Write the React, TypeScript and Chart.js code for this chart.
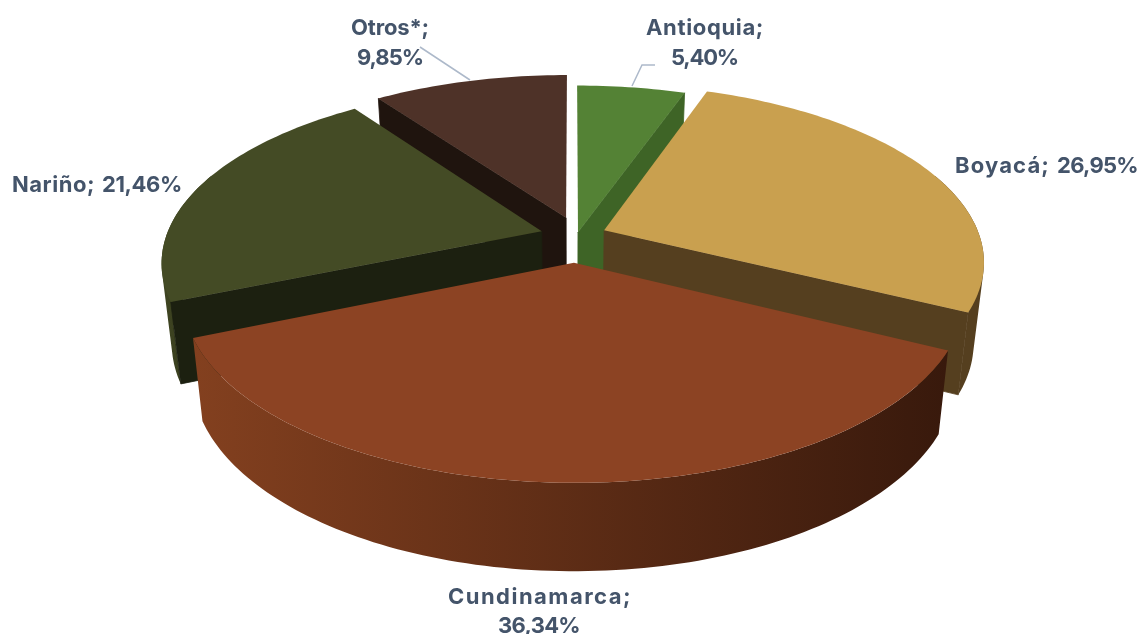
import React, { useEffect, useRef } from "react";
import { Chart, registerables } from "chart.js";

Chart.register(...registerables);

// Production share by department, in percent
const categories = ["Antioquia", "Boyacá", "Cundinamarca", "Nariño", "Otros*"];
const shares = [5.4, 26.95, 36.34, 21.46, 9.85];

// Slice appearance
const topColors = ["#548235", "#C9A04F", "#8C4323", "#444B25", "#4E3228"];
const sideColors = ["#3E6426", "#553F1F", "#5A2A14", "#1C2010", "#1F140E"];
const rimFrom = ["#4A7230", "#553F1F", "#83401F", "#3F4522", "#3E2820"];
const rimTo = ["#3E6426", "#553F1F", "#38190C", "#33381B", "#2E1D17"];

// Explosion of each slice on the pie plane, in pie radii
const explodeX = [0.016, 0.086, 0.005, -0.081, -0.016];
const explodeY = [-0.045, -0.056, 0.128, -0.05, -0.13];

// Slices are painted from the back of the pie towards the viewer
const paintOrder = [4, 0, 3, 1, 2];

// Camera used to lay the pie on its plane
const VIEW = { cx: 572, cy: 240, ax: 377, ay: 174, persp: 0.17, baseScale: 0.975 };

const LABEL_COLOR = "#44546A";
const LEADER_COLOR = "#ADB9CA";
const LABEL_FONT = "bold 22px Inter, Lato, sans-serif";

// Where each slice's name and value are set: [left, width, middle] of the run of text
const nameBoxes = [
  [646, 118, 28],
  [955, 95, 166],
  [448, 184, 597],
  [12, 83, 185],
  [351, 78, 28],
];
const valueBoxes = [
  [671, 67, 58],
  [1057, 81, 166],
  [498, 82, 626],
  [102, 80, 185],
  [357, 66, 58],
];

const formatShare = (v: number) => v.toFixed(2).replace(".", ",") + "%";

type Pt = [number, number];

function projectTop(x: number, y: number): Pt {
  const w = 1 - VIEW.persp * y;
  return [VIEW.cx + (VIEW.ax * x) / w, VIEW.cy + (VIEW.ay * y) / w];
}

// Point at the same place on the underside of the pie
function dropToBase(p: Pt): Pt {
  return [VIEW.cx + VIEW.baseScale * (p[0] - VIEW.cx), p[1] + 71 + 0.036 * p[1]];
}

function trace(ctx: CanvasRenderingContext2D, pts: Pt[]) {
  ctx.beginPath();
  pts.forEach((p, i) => (i ? ctx.lineTo(p[0], p[1]) : ctx.moveTo(p[0], p[1])));
  ctx.closePath();
}

function signedArea(pts: Pt[]) {
  return pts.reduce((sum, p, i) => {
    const q = pts[(i + 1) % pts.length];
    return sum + p[0] * q[1] - q[0] * p[1];
  }, 0);
}

function paintSlice(ctx: CanvasRenderingContext2D, arc: any, i: number) {
  const { startAngle, endAngle } = arc.getProps(["startAngle", "endAngle"]);
  const steps = Math.max(8, Math.ceil((endAngle - startAngle) * 48));
  const angles: number[] = [];
  for (let s = 0; s <= steps; s++) angles.push(startAngle + ((endAngle - startAngle) * s) / steps);
  const onRim = (a: number) => projectTop(Math.cos(a) + explodeX[i], Math.sin(a) + explodeY[i]);
  const rim = angles.map(onRim);
  const apex = projectTop(explodeX[i], explodeY[i]);
  const apexBase = dropToBase(apex);

  // Curved outer wall: only the part turned towards the viewer, shaded left to right.
  // Built from strips wound the same way, so that their union fills without seams
  // where the top and base outlines cross near the silhouette.
  const front = angles.filter((a) => Math.sin(a) > -0.35).map(onRim);
  if (front.length > 1) {
    const xs = front.map((p) => p[0]);
    const grad = ctx.createLinearGradient(Math.min(...xs), 0, Math.max(...xs), 0);
    grad.addColorStop(0, rimFrom[i]);
    grad.addColorStop(1, rimTo[i]);
    ctx.fillStyle = grad;
    ctx.beginPath();
    for (let s = 0; s < front.length - 1; s++) {
      const strip: Pt[] = [front[s], front[s + 1], dropToBase(front[s + 1]), dropToBase(front[s])];
      if (signedArea(strip) < 0) strip.reverse();
      strip.forEach((p, k) => (k ? ctx.lineTo(p[0], p[1]) : ctx.moveTo(p[0], p[1])));
      ctx.closePath();
    }
    ctx.fill("nonzero");
  }

  // Flat cut faces that look towards the viewer, with a hairline stroke closing
  // the join against the outer wall
  ctx.fillStyle = sideColors[i];
  ctx.strokeStyle = sideColors[i];
  ctx.lineWidth = 0.8;
  if (-Math.cos(startAngle) > 0.01) {
    trace(ctx, [apex, rim[0], dropToBase(rim[0]), apexBase]);
    ctx.fill();
    ctx.stroke();
  }
  if (Math.cos(endAngle) > 0.01) {
    trace(ctx, [apex, rim[steps], dropToBase(rim[steps]), apexBase]);
    ctx.fill();
    ctx.stroke();
  }

  // Top face
  ctx.fillStyle = arc.options.backgroundColor;
  trace(ctx, [apex, ...rim]);
  ctx.fill();
}

// Sets a run of text so that it fills the width of its box
function setText(ctx: any, text: string, box: number[]) {
  ctx.letterSpacing = "0px";
  const natural = ctx.measureText(text).width;
  ctx.letterSpacing = (box[1] - natural) / text.length + "px";
  ctx.fillText(text, box[0], box[2]);
}

const pie3dPlugin = {
  id: "pie3d",
  beforeDatasetDraw(chart: any, args: any) {
    const ctx = chart.ctx;
    const arcs = chart.getDatasetMeta(args.index).data;
    paintOrder.forEach((i) => paintSlice(ctx, arcs[i], i));
    return false;
  },
  afterDatasetsDraw(chart: any) {
    const ctx = chart.ctx;
    ctx.save();

    // Leader lines for the two labels set away from their slices
    ctx.strokeStyle = LEADER_COLOR;
    ctx.lineWidth = 1.5;
    ctx.beginPath();
    ctx.moveTo(420, 47);
    ctx.lineTo(470, 80);
    ctx.moveTo(655, 65);
    ctx.lineTo(642, 65);
    ctx.lineTo(632, 86);
    ctx.stroke();

    ctx.fillStyle = LABEL_COLOR;
    ctx.font = LABEL_FONT;
    ctx.textBaseline = "middle";
    ctx.textAlign = "left";
    categories.forEach((c, i) => {
      setText(ctx, c + ";", nameBoxes[i]);
      setText(ctx, formatShare(shares[i]), valueBoxes[i]);
    });
    ctx.restore();
  },
};

export default function App() {
  const ref = useRef<HTMLCanvasElement>(null);
  useEffect(() => {
    const chart = new Chart(ref.current!, {
      type: "pie",
      data: {
        labels: categories,
        datasets: [{ data: shares, backgroundColor: topColors, borderWidth: 0 }],
      },
      options: {
        animation: false,
        responsive: false,
        plugins: { legend: { display: false }, tooltip: { enabled: false } },
      },
      plugins: [pie3dPlugin],
    });
    return () => chart.destroy();
  }, []);
  return (
    <canvas
      ref={ref}
      width={1141}
      height={634}
      style={{ position: "fixed", left: 0, top: 0, width: 1141, height: 634 }}
    />
  );
}
